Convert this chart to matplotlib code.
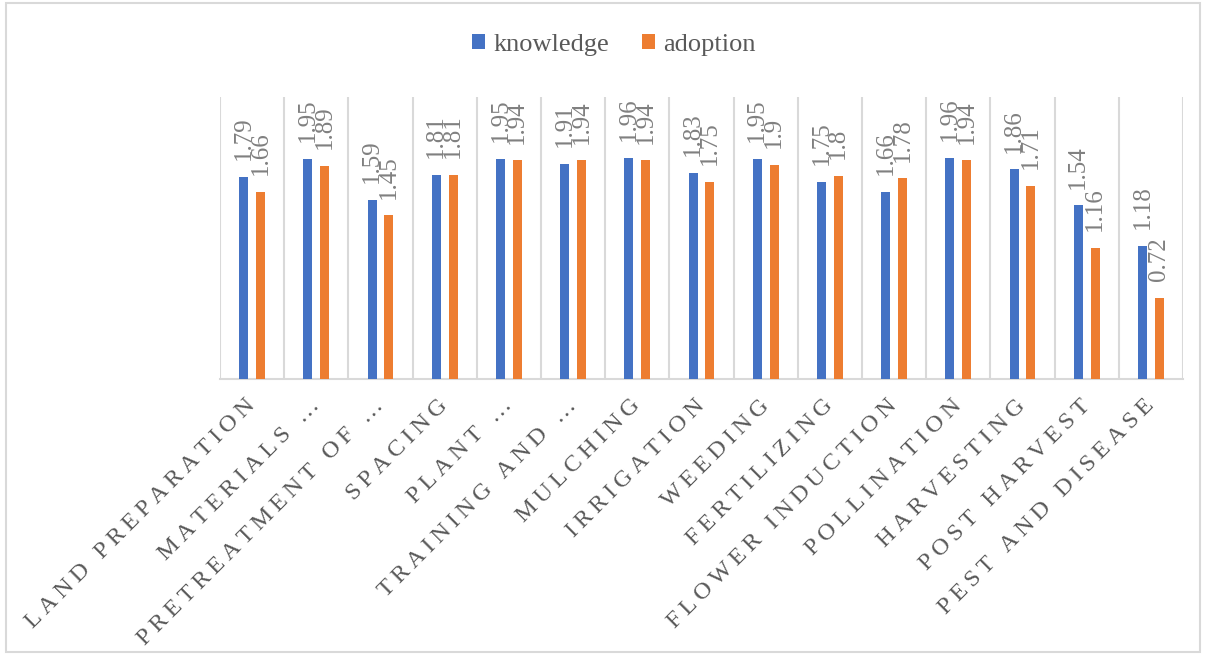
import matplotlib
matplotlib.use("Agg")
import matplotlib.pyplot as plt
from matplotlib.patches import Rectangle
import numpy as np

categories = ["LAND PREPARATION", "MATERIALS \u2026", "PRETREATMENT OF \u2026", "SPACING",
              "PLANT \u2026", "TRAINING AND \u2026", "MULCHING", "IRRIGATION", "WEEDING",
              "FERTILIZING", "FLOWER INDUCTION", "POLLINATION", "HARVESTING",
              "POST HARVEST", "PEST AND DISEASE"]
knowledge = [1.79, 1.95, 1.59, 1.81, 1.95, 1.91, 1.96, 1.83, 1.95, 1.75, 1.66, 1.96, 1.86, 1.54, 1.18]
adoption = [1.66, 1.89, 1.45, 1.81, 1.94, 1.94, 1.94, 1.75, 1.9, 1.8, 1.78, 1.94, 1.71, 1.16, 0.72]

FONT = ["Liberation Serif", "DejaVu Serif"]
plt.rcParams["font.family"] = FONT

BLUE = "#4472C4"
ORANGE = "#ED7D31"
GRID = "#D9D9D9"
TXT = "#595959"
VAL = "#808080"

def spaced(s, sp="\u2009"):
    return sp.join(list(s))

fig = plt.figure(figsize=(12.05, 6.55), dpi=100)
ax = fig.add_axes([220 / 1205, 1 - 379 / 655, (1183 - 220) / 1205, (379 - 97) / 655])

x = np.arange(len(categories))
w = 0.14
off = 0.13
b1 = ax.bar(x - off, knowledge, w, color=BLUE, label="knowledge", zorder=3)
b2 = ax.bar(x + off, adoption, w, color=ORANGE, label="adoption", zorder=3)

for bars, vals in ((b1, knowledge), (b2, adoption)):
    for r, v in zip(bars, vals):
        ax.annotate(f"{v:g}", (r.get_x() + r.get_width() / 2, r.get_height()),
                    xytext=(0, 12), textcoords="offset points", rotation=90,
                    ha="center", va="bottom", fontsize=18, color=VAL)

ax.set_xlim(-0.5, len(categories) - 0.5)
ax.set_ylim(0, 2.5)
ax.set_yticks([])
ax.set_xticks(x)
ax.set_xticklabels([spaced(c) for c in categories], rotation=45, ha="right", va="center",
                   rotation_mode="anchor", fontsize=17.6, color=TXT)
ax.tick_params(axis="x", length=0, pad=17)
ax.set_xticks(np.arange(-0.5, len(categories)), minor=True)
ax.tick_params(axis="x", which="minor", length=0)
ax.grid(axis="x", which="minor", color=GRID, linewidth=1.5, zorder=0)
ax.grid(axis="x", which="major", visible=False)
for s in ("top", "left", "right"):
    ax.spines[s].set_visible(False)
ax.spines["bottom"].set_color(GRID)
ax.spines["bottom"].set_linewidth(1.5)

leg = fig.legend(handles=[b1, b2], loc="center", bbox_to_anchor=(614 / 1205, 1 - 45 / 655), ncol=2,
                 frameon=False, fontsize=19, handlelength=0.5, handleheight=0.5,
                 handletextpad=0.3, columnspacing=1.25, labelcolor=TXT)

fig.patches.append(Rectangle((6 / 1205, 3 / 655), 1194 / 1205, 649 / 655, transform=fig.transFigure,
                             fill=False, edgecolor=GRID, linewidth=1.5))

fig.savefig("out.png", dpi=100)
